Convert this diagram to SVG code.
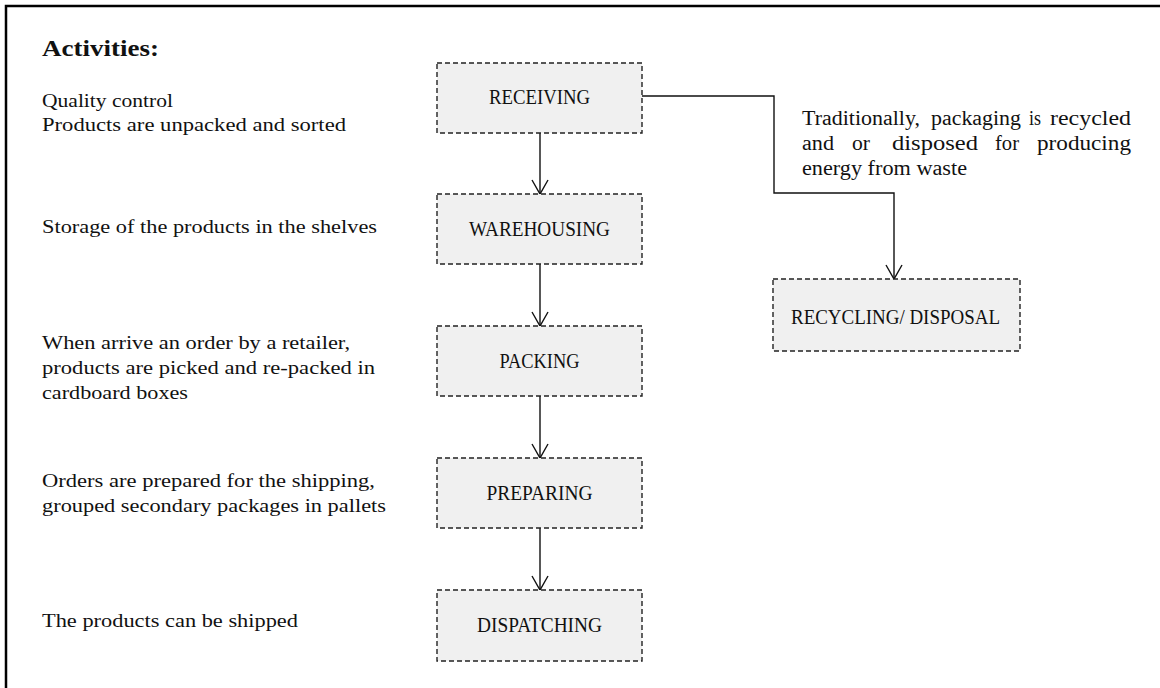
<svg xmlns="http://www.w3.org/2000/svg" width="1160" height="688" viewBox="0 0 1160 688">
  <style>
    .frame { fill: none; stroke: #000; stroke-width: 2.5; }
    .box { fill: #f0f0f0; stroke: #222; stroke-width: 1.4; stroke-dasharray: 5 3; }
    .lbl { font-family: "Liberation Serif", "Times New Roman", serif; font-size: 20.5px; fill: #111; text-anchor: middle; }
    .txt { font-family: "Liberation Serif", "Times New Roman", serif; font-size: 19.5px; fill: #111; }
    .note { font-family: "Liberation Serif", "Times New Roman", serif; font-size: 20.5px; fill: #111; }
    .head { font-family: "Liberation Serif", "Times New Roman", serif; font-size: 23px; font-weight: bold; fill: #111; }
    .conn { fill: none; stroke: #111; stroke-width: 1.4; }
  </style>
  <defs>
    <marker id="vee" markerUnits="userSpaceOnUse" markerWidth="18" markerHeight="20" viewBox="-16 -10 18 20" refX="0" refY="0" orient="auto" overflow="visible">
      <path d="M-14,-8 L0,0 L-14,8" fill="none" stroke="#111" stroke-width="1.4"/>
    </marker>
  </defs>

  <!-- page frame: top and left rules -->
  <path class="frame" d="M6,688 L6,6 L1160,6"/>

  <!-- left-hand activity descriptions -->
  <g id="activities">
    <text class="head" x="42" y="56" textLength="117" lengthAdjust="spacingAndGlyphs">Activities:</text>
    <text class="txt" x="42" y="107" textLength="131" lengthAdjust="spacingAndGlyphs">Quality control</text>
    <text class="txt" x="42" y="131" textLength="304" lengthAdjust="spacingAndGlyphs">Products are unpacked and sorted</text>
    <text class="txt" x="42" y="233" textLength="335" lengthAdjust="spacingAndGlyphs">Storage of the products in the shelves</text>
    <text class="txt" x="42" y="349" textLength="308" lengthAdjust="spacingAndGlyphs">When arrive an order by a retailer,</text>
    <text class="txt" x="42" y="374" textLength="333" lengthAdjust="spacingAndGlyphs">products are picked and re-packed in</text>
    <text class="txt" x="42" y="399" textLength="146" lengthAdjust="spacingAndGlyphs">cardboard boxes</text>
    <text class="txt" x="42" y="487" textLength="333" lengthAdjust="spacingAndGlyphs">Orders are prepared for the shipping,</text>
    <text class="txt" x="42" y="512" textLength="344" lengthAdjust="spacingAndGlyphs">grouped secondary packages in pallets</text>
    <text class="txt" x="42" y="627" textLength="256" lengthAdjust="spacingAndGlyphs">The products can be shipped</text>
  </g>

  <!-- justified note beside the recycling branch, set word by word -->
  <g id="note">
    <text class="note" x="802" y="125" textLength="118" lengthAdjust="spacingAndGlyphs">Traditionally,</text>
    <text class="note" x="931" y="125" textLength="90" lengthAdjust="spacingAndGlyphs">packaging</text>
    <text class="note" x="1029" y="125" textLength="12" lengthAdjust="spacingAndGlyphs">is</text>
    <text class="note" x="1050" y="125" textLength="81" lengthAdjust="spacingAndGlyphs">recycled</text>
    <text class="note" x="802" y="150" textLength="32" lengthAdjust="spacingAndGlyphs">and</text>
    <text class="note" x="852" y="150" textLength="18" lengthAdjust="spacingAndGlyphs">or</text>
    <text class="note" x="892" y="150" textLength="86" lengthAdjust="spacingAndGlyphs">disposed</text>
    <text class="note" x="995" y="150" textLength="24" lengthAdjust="spacingAndGlyphs">for</text>
    <text class="note" x="1037" y="150" textLength="94" lengthAdjust="spacingAndGlyphs">producing</text>
    <text class="note" x="802" y="175" textLength="165" lengthAdjust="spacingAndGlyphs">energy from waste</text>
  </g>

  <!-- connectors -->
  <g id="connectors">
    <path class="conn" d="M540,133 L540,194" marker-end="url(#vee)"/>
    <path class="conn" d="M540,264 L540,326" marker-end="url(#vee)"/>
    <path class="conn" d="M540,396 L540,458" marker-end="url(#vee)"/>
    <path class="conn" d="M540,528 L540,590" marker-end="url(#vee)"/>
    <path class="conn" d="M642,96 L774,96 L774,193 L894,193 L894,279" marker-end="url(#vee)"/>
  </g>

  <!-- process steps -->
  <g id="receiving">
    <rect class="box" x="437" y="63" width="205" height="70"/>
    <text class="lbl" x="539.5" y="104" textLength="101" lengthAdjust="spacingAndGlyphs">RECEIVING</text>
  </g>
  <g id="warehousing">
    <rect class="box" x="437" y="194" width="205" height="70"/>
    <text class="lbl" x="539.5" y="236" textLength="141" lengthAdjust="spacingAndGlyphs">WAREHOUSING</text>
  </g>
  <g id="packing">
    <rect class="box" x="437" y="326" width="205" height="70"/>
    <text class="lbl" x="539.5" y="368" textLength="80" lengthAdjust="spacingAndGlyphs">PACKING</text>
  </g>
  <g id="preparing">
    <rect class="box" x="437" y="458" width="205" height="70"/>
    <text class="lbl" x="539.5" y="500" textLength="106" lengthAdjust="spacingAndGlyphs">PREPARING</text>
  </g>
  <g id="dispatching">
    <rect class="box" x="437" y="590" width="205" height="71"/>
    <text class="lbl" x="539.5" y="632" textLength="125" lengthAdjust="spacingAndGlyphs">DISPATCHING</text>
  </g>
  <g id="recycling">
    <rect class="box" x="773" y="279" width="247" height="72"/>
    <text class="lbl" x="895.5" y="324" textLength="209" lengthAdjust="spacingAndGlyphs">RECYCLING/ DISPOSAL</text>
  </g>
</svg>
